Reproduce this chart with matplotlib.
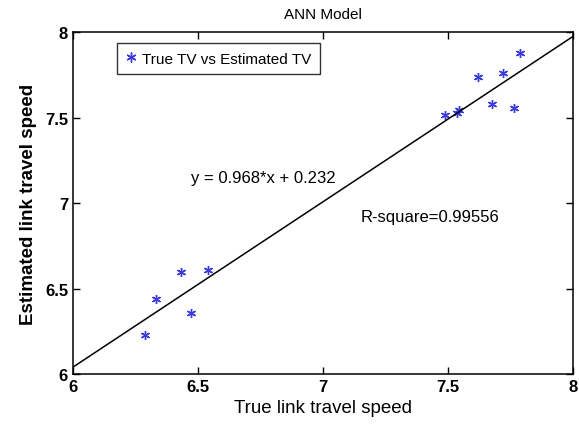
import matplotlib
matplotlib.use("Agg")
import matplotlib.pyplot as plt
import numpy as np

plt.rcParams['font.family'] = ['Liberation Sans', 'DejaVu Sans']

true_tv = [6.288, 6.332, 6.432, 6.472, 6.540, 7.487, 7.536, 7.544, 7.620, 7.677, 7.720, 7.763, 7.787]
est_tv = [6.228, 6.440, 6.596, 6.357, 6.608, 7.515, 7.525, 7.545, 7.735, 7.580, 7.760, 7.556, 7.877]
slope = 0.968
intercept = 0.232
xticks = [6, 6.5, 7, 7.5, 8]
yticks = [6, 6.5, 7, 7.5, 8]
xtick_labels = ['6', '6.5', '7', '7.5', '8']
ytick_labels = ['6', '6.5', '7', '7.5', '8']

fig = plt.figure(figsize=(5.79, 4.31), dpi=100)
ax = fig.add_axes([0.126, 0.130, 0.864, 0.793])

ax.plot(true_tv, est_tv, linestyle='none', marker=(6, 2, 0), color='#3a3ad8',
        markersize=6.5, markeredgewidth=1.0, label='True TV vs Estimated TV')
xl = np.array([6, 8])
ax.plot(xl, slope * xl + intercept, color='black', linewidth=1.1)

ax.set_xlim(6, 8)
ax.set_ylim(6, 8)
ax.set_xticks(xticks)
ax.set_xticklabels(xtick_labels)
ax.set_yticks(yticks)
ax.set_yticklabels(ytick_labels)
ax.tick_params(direction='in', top=True, right=True, length=5, labelsize=12, width=1)
for lab in ax.get_xticklabels() + ax.get_yticklabels():
    lab.set_fontweight('bold')
for s in ax.spines.values():
    s.set_linewidth(1.1)

ax.set_title('ANN Model', fontsize=11, pad=10)
ax.set_xlabel('True link travel speed', fontsize=13.5, labelpad=4)
ax.set_ylabel('Estimated link travel speed', fontsize=13.5, fontweight='bold', labelpad=6)

ax.text(6.47, 7.15, 'y = 0.968*x + 0.232', fontsize=12, va='center', ha='left')
ax.text(7.15, 6.92, 'R-square=0.99556', fontsize=12, va='center', ha='left')

leg = ax.legend(loc='upper left', bbox_to_anchor=(0.088, 0.968),
                prop={'size': 11}, markerscale=1.1,
                frameon=True, fancybox=False, edgecolor='black', handlelength=0.8,
                handletextpad=0.3, borderpad=0.55, borderaxespad=0)
leg.get_frame().set_linewidth(1.0)

fig.savefig('out.png', dpi=100)
